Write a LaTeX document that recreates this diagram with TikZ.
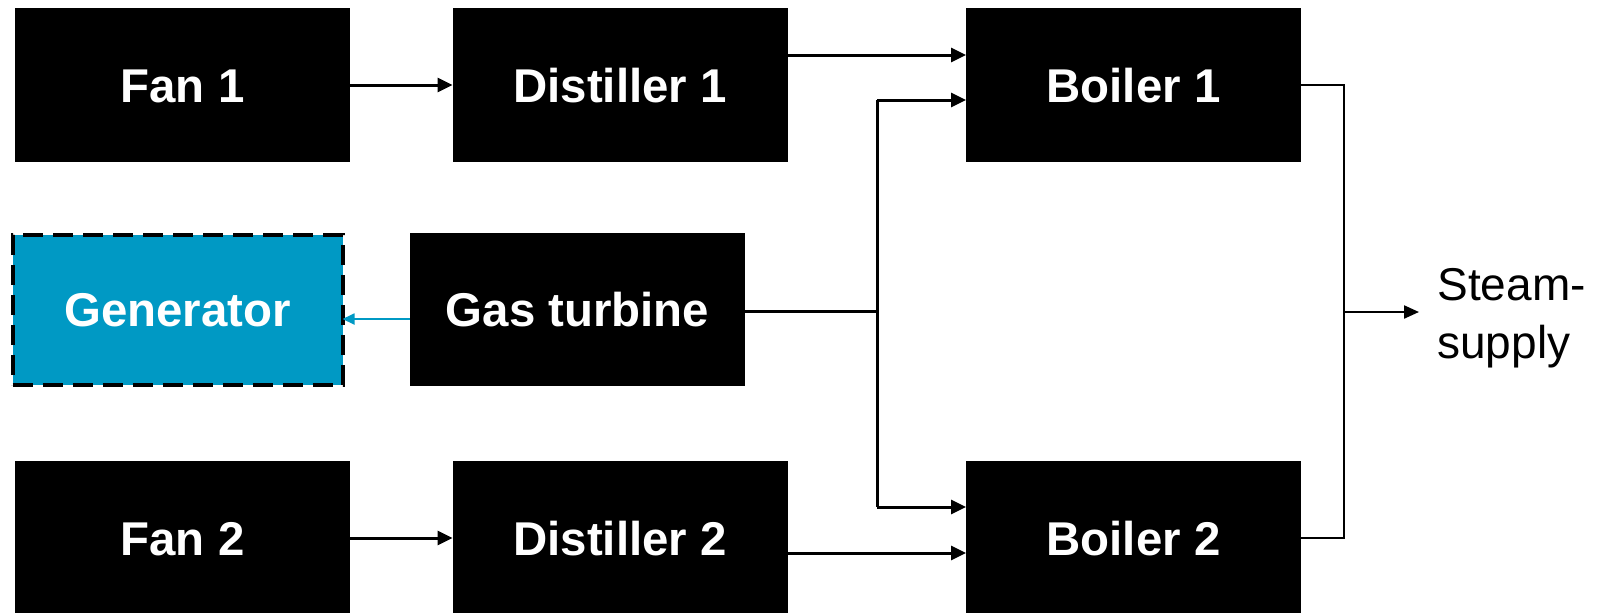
\documentclass[tikz,border=0pt]{standalone}
\usepackage{fontspec}
\setmainfont{Liberation Sans}
\usetikzlibrary{arrows.meta,calc}
\definecolor{genblue}{RGB}{0,153,196}
\tikzset{
  box/.style={fill=black, text=white, font=\fontsize{23.7}{28}\selectfont\bfseries,
    text height=17pt, text depth=0pt,
    minimum width=167.5pt, minimum height=77pt, inner sep=0pt, outer sep=0pt},
  genbox/.style={box, fill=genblue, draw=black, line width=2pt,
    dash pattern=on 10pt off 5pt, minimum width=165pt, minimum height=75pt},
  conn/.style={line width=1.5pt, -{Triangle[length=7.5pt,width=7pt]}},
  plain/.style={line width=1.5pt},
  outl/.style={line width=1.1pt},
  outarr/.style={line width=1.1pt, -{Triangle[length=7.5pt,width=6.5pt]}},
  bluearr/.style={genblue, line width=0.9pt, -{Triangle[length=6pt,width=5.5pt]}},
}
\begin{document}
\begin{tikzpicture}[x=0.5pt,y=-0.5pt]
\useasboundingbox[fill=white] (0,0) rectangle (1606,612);
% boxes
\node[box] (fan1) at (182.5,85) {Fan 1};
\node[box] (dist1) at (620,85) {Distiller 1};
\node[box] (boil1) at (1133.5,85) {Boiler 1};
\node[genbox] (gen) at (177.5,309.5) {Generator};
\node[box, minimum height=76.5pt] (gas) at (577.5,309.5) {Gas turbine};
\node[box] (fan2) at (182.5,538) {Fan 2};
\node[box] (dist2) at (620,538) {Distiller 2};
\node[box] (boil2) at (1133.5,538) {Boiler 2};
\node[font=\fontsize{23}{29}\selectfont, align=left, anchor=west, inner sep=0pt] (steam) at (1437,318) {Steam-\\supply};
% junction coordinates
\coordinate (j) at (877,311);
\coordinate (jt) at (877,100);
\coordinate (jb) at (877,507);
\coordinate (r) at (1344,312);
% connectors
\draw[conn] (fan1.east) -- (dist1.west);
\draw[conn] (fan2.east) -- (dist2.west);
\draw[conn] ([yshift=15pt]dist1.east) -- ([yshift=15pt]boil1.west);
\draw[conn] ([yshift=-7.5pt]dist2.east) -- ([yshift=-7.5pt]boil2.west);
\draw[plain] (gas.east |- j) -- (j);
\draw[plain] (jt) -- (jb);
\draw[conn] (jt) -- (boil1.west |- jt);
\draw[conn] (jb) -- (boil2.west |- jb);
\draw[bluearr] ([yshift=-4.75pt]gas.west) -- ([yshift=-4.75pt]gen.east);
\draw[outl] (boil1.east) -| (r) |- (boil2.east);
\draw[outarr] (r) -- ([xshift=-9pt]steam.west |- r);
\end{tikzpicture}
\end{document}
